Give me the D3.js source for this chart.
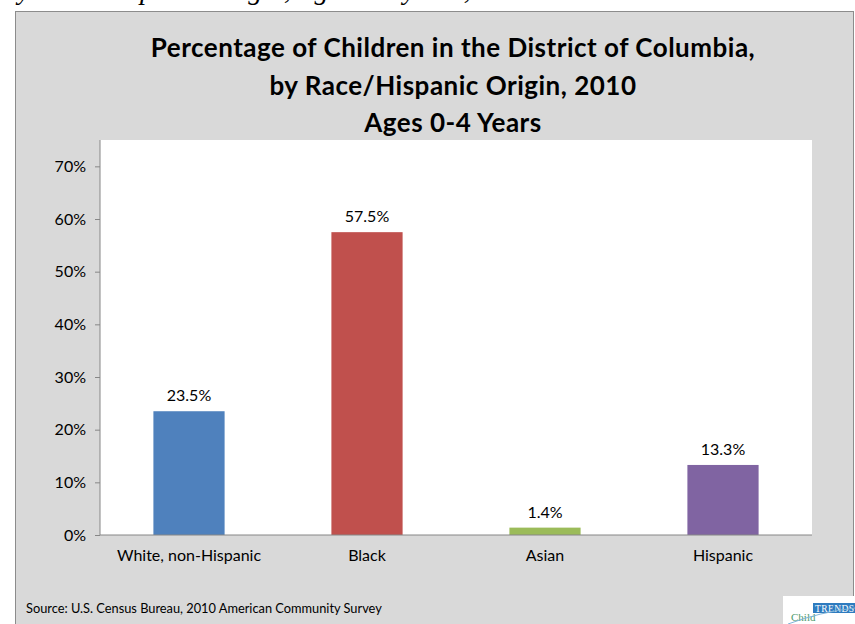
<!DOCTYPE html>
<html>
<head>
<meta charset="utf-8">
<script src="https://cdn.jsdelivr.net/npm/d3@7"></script>
<style>
  html, body { margin: 0; padding: 0; background: #ffffff; }
  svg { display: block; }
</style>
</head>
<body>
<svg id="chart" width="855" height="624"></svg>
<script>
// ---- data ----
const categories = ["White, non-Hispanic", "Black", "Asian", "Hispanic"];
const values = [0.235, 0.575, 0.014, 0.133];
const valueLabels = ["23.5%", "57.5%", "1.4%", "13.3%"];
const barColors = ["#4F81BD", "#C0504D", "#9BBB59", "#8064A2"];
const yTicks = [0, 0.1, 0.2, 0.3, 0.4, 0.5, 0.6, 0.7];
const titleLines = [
  "Percentage of Children in the District of Columbia,",
  "by Race/Hispanic Origin, 2010",
  "Ages 0-4 Years"
];
const topCaption = "by Race/Hispanic Origin, Ages 0-4 years, 2010";
const sourceText = "Source: U.S. Census Bureau, 2010 American Community Survey";

const FONT = "Lato, 'Open Sans', sans-serif";
const svg = d3.select("#chart");

// cut-off caption above the chart
svg.append("text")
  .attr("x", 4).attr("y", -1)
  .attr("font-family", "'Liberation Serif', 'DejaVu Serif', serif")
  .attr("font-style", "italic")
  .attr("font-size", 28)
  .attr("fill", "#000")
  .text(topCaption);

// chart panel
svg.append("rect")
  .attr("x", 15.5).attr("y", 11.5)
  .attr("width", 838).attr("height", 640)
  .attr("fill", "#D9D9D9")
  .attr("stroke", "#8C8C8C").attr("stroke-width", 1);

// title
const title = svg.append("text")
  .attr("text-anchor", "middle")
  .attr("font-family", FONT)
  .attr("font-weight", "bold")
  .attr("font-size", 26)
  .attr("letter-spacing", 0.5)
  .attr("fill", "#000");
titleLines.forEach((t, i) => {
  title.append("tspan").attr("x", 453).attr("y", 57 + i * 37.5).text(t);
});

// plot area
const plot = { left: 100, right: 812, top: 140, bottom: 535 };
svg.append("rect")
  .attr("x", plot.left).attr("y", plot.top)
  .attr("width", plot.right - plot.left).attr("height", plot.bottom - plot.top)
  .attr("fill", "#FFFFFF");

const x = d3.scaleBand().domain(categories)
  .range([plot.left, plot.right]).paddingInner(0.6).paddingOuter(0.3);
const y = d3.scaleLinear().domain([0, 0.75]).range([plot.bottom, plot.top]);

// bars
svg.append("g").selectAll("rect")
  .data(categories)
  .join("rect")
  .attr("x", d => x(d))
  .attr("y", (d, i) => y(values[i]))
  .attr("width", x.bandwidth())
  .attr("height", (d, i) => y(0) - y(values[i]))
  .attr("fill", (d, i) => barColors[i]);

// value labels
svg.append("g").selectAll("text")
  .data(categories)
  .join("text")
  .attr("x", d => x(d) + x.bandwidth() / 2)
  .attr("y", (d, i) => y(values[i]) - 10)
  .attr("text-anchor", "middle")
  .attr("font-family", FONT)
  .attr("font-size", 16)
  .attr("fill", "#000")
  .text((d, i) => valueLabels[i]);

// y axis
const yAxis = d3.axisLeft(y).tickValues(yTicks)
  .tickFormat(d3.format(".0%")).tickSize(5).tickPadding(9);
const gy = svg.append("g").attr("transform", `translate(${plot.left},0)`).call(yAxis);
gy.select(".domain").attr("stroke", "#868686").attr("d", `M0,${plot.top}V${plot.bottom}`);
gy.selectAll(".tick line").attr("stroke", "#868686");
gy.selectAll(".tick text")
  .attr("font-family", FONT).attr("font-size", 16).attr("fill", "#000");

// x axis
const xAxis = d3.axisBottom(x).tickSize(0).tickPadding(15);
const gx = svg.append("g").attr("transform", `translate(0,${plot.bottom})`).call(xAxis);
gx.select(".domain").attr("stroke", "#868686").attr("d", `M${plot.left},0H${plot.right}`);
gx.selectAll(".tick text")
  .attr("font-family", FONT).attr("font-size", 16).attr("fill", "#000");

// source
svg.append("text")
  .attr("x", 26).attr("y", 613)
  .attr("font-family", FONT)
  .attr("font-size", 12.8)
  .attr("fill", "#000")
  .text(sourceText);

// logo
const logo = svg.append("g");
logo.append("rect").attr("x", 783).attr("y", 596).attr("width", 72).attr("height", 28).attr("fill", "#fff");
logo.append("rect").attr("x", 813).attr("y", 603).attr("width", 42).attr("height", 10).attr("fill", "#2E7BBF");
logo.append("text").attr("x", 815).attr("y", 612)
  .attr("font-family", "'Liberation Serif', serif").attr("font-size", 9.5)
  .attr("letter-spacing", 0.4).attr("fill", "#fff").text("TRENDS");
logo.append("text").attr("x", 791).attr("y", 621)
  .attr("font-family", "'Liberation Serif', serif").attr("font-size", 11)
  .attr("fill", "#4E9A6B").text("Child");
logo.append("path").attr("d", "M788,624 Q820,612 855,608")
  .attr("fill", "none").attr("stroke", "#7FB4D8").attr("stroke-width", 1);
</script>
</body>
</html>
